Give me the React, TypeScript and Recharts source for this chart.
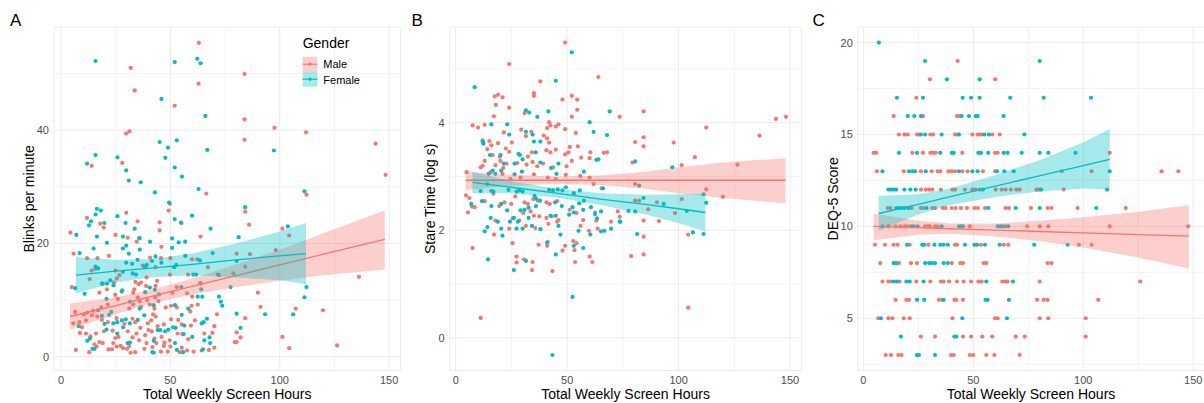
import React from 'react';
import { ComposedChart, Scatter, Area, Line, XAxis, YAxis, CartesianGrid, ReferenceLine } from 'recharts';

const RED = '#F8766D';
const TEAL = '#00BFC4';
const FONT = "'Liberation Sans', Arial, Helvetica, sans-serif";
const BAND_OPACITY = 0.35;

type Pt = [number, number];
type Row = [number, number[]];

// ---------- ticks ----------
const xTicks = [0, 50, 100, 150];
const xMinor = [25, 75, 125];
const yTicksA = [0, 20, 40];
const yMinorA = [10, 30, 50];
const yTicksB = [0, 2, 4];
const yMinorB = [1, 3, 5];
const yTicksC = [5, 10, 15, 20];
const yMinorC = [2.5, 7.5, 12.5, 17.5];

// ---------- Panel A: Blinks per minute ----------
const maleA: Pt[] = [
  [63, 55.4], [31.9, 51], [62.9, 48.2], [33.7, 47], [52, 44.3], [29.8, 39.4], [31.3, 39.8], [14, 33.7], [28, 34.2], [66.4, 28.8],
  [49.8, 27], [49.2, 25.8], [11.9, 24.5], [29.8, 25.4], [17.9, 23.5], [19.5, 22.8], [35, 23.9], [45.1, 23.7], [45.1, 22.3], [63.8, 21.2],
  [4.3, 21.9], [24.9, 21.5], [34.6, 20.3], [45.9, 19.4], [5.8, 18.2], [21.9, 17.8], [40.7, 17.5], [11.9, 17.4], [16.7, 17.4], [59.9, 17.2],
  [62.3, 17.2], [14, 15.2], [24.9, 15.2], [26.7, 14.4], [25.5, 13.8], [37.4, 16.1], [43.2, 15.8], [49.8, 14.5], [58.1, 14.5], [67.2, 15.8],
  [13.1, 13.7], [4.9, 12.3], [19.1, 12.9], [21, 11.9], [38.9, 12.5], [43.2, 12.5], [52.9, 12.3], [63.8, 12.9], [34, 13.2], [35.5, 12.8],
  [33.5, 11.9], [30.5, 21], [35.7, 21], [54.9, 23.7], [50, 17.4], [72.2, 14.4], [63.7, 13], [43.9, 13.4], [39.1, 14], [36.6, 13.1],
  [24.2, 13.1], [15.7, 15.5], [45.7, 17.4],
  [17.5, 11.3], [24.8, 10.9], [26, 10.2], [33, 11.3], [35.1, 10.5], [36, 9.8], [39.4, 10], [43, 10.5], [44.5, 9.8], [50.9, 11.3],
  [57.6, 11.2], [60, 10.6], [21.4, 9.2], [18.4, 8.7], [14.7, 8.1], [12, 7.8], [14.1, 7.3], [10.5, 7.5], [6.5, 7.9], [33, 9.2],
  [31.2, 8.5], [36.6, 8.8], [40.6, 9.2], [42.7, 8.5], [42.1, 7.5], [43.3, 7.1], [47.9, 8.7], [50.3, 9], [53, 8.7], [59.7, 9],
  [59.1, 8], [62.5, 9.2], [71.3, 7.5], [5.6, 5.9], [8.4, 6.1], [9.6, 5.2], [11.4, 6.4], [16.6, 7.1], [18.7, 6.5], [21.4, 6.1],
  [25.4, 6.8], [29, 5.8], [32.7, 6.7], [33.9, 6.1], [36.3, 5.1], [39.7, 5.9], [41.2, 6.4], [44.2, 5.4], [47, 5.7], [50.3, 6.6],
  [53.6, 6.5], [55.2, 5.7], [59.4, 5.5], [61.2, 6.4], [70.1, 5.4], [8.7, 4.2], [11.4, 4.1], [13.5, 3.6], [16, 4.1], [19.6, 4.5],
  [23.6, 4.6], [24.8, 3.3], [26.3, 3.5], [30.5, 4.5], [32.7, 3.4], [34.5, 4.1], [35.7, 2.9], [38.5, 3.8], [40, 4.7], [41.5, 4.5],
  [42.7, 3.2], [46, 3.5], [47.3, 2.5], [49.7, 2.9], [53.3, 4.1], [55.5, 4], [58.2, 3.1], [65.5, 4.1], [69.2, 4.2], [6.8, 1.2],
  [12.9, 0.8], [15.3, 2.2], [16.3, 1.8], [17.5, 2.6], [19, 2.4], [21.7, 1.3], [23.3, 1.3], [23.9, 2.4], [25.4, 1.8], [27.2, 1.9],
  [28.4, 1.5], [30.2, 1.4], [31.2, 1.9], [31.8, 0.7], [33.9, 0.8], [38.1, 1.4], [39.1, 2.4], [41.8, 1.7], [43.6, 2.4], [45.7, 0.9],
  [47, 1.9], [48.8, 0.9], [50, 1.8], [54.3, 0.8], [55.2, 1.6], [57.6, 1.1], [60.6, 0.9], [64.3, 1.1], [67.6, 1.2], [70.1, 1.6],
  [83.9, 49.9], [83.9, 41.9], [97.6, 40.4], [83.9, 38.3], [112, 39.6], [143.8, 37.6], [148.4, 32.1], [112.2, 28.6], [84.2, 25.6], [86, 23.3],
  [101.2, 22.6], [104.3, 21.4], [98.2, 18.8], [80.3, 18.2], [86.4, 18.1], [84.2, 15.9], [78.8, 14.7], [136.2, 14.1], [90, 11.3], [91.2, 8.8],
  [107.3, 8.5], [119.8, 8.2], [84.2, 6.8], [80.3, 4.3], [82.1, 3.4], [79.4, 2.6], [80.3, 2.6], [101.2, 3.5], [104.3, 1.5], [126.2, 2],
];

const femaleA: Pt[] = [
  [15.8, 52.2], [52, 52], [62.3, 52.6], [63.8, 51.8], [45.9, 45.5], [66, 42.5], [45.1, 37.9], [52.9, 38.2], [48.9, 36.9], [66.9, 36.5],
  [15.8, 35.6], [11.9, 34.1], [25.8, 35.2], [47.7, 35.1], [29.8, 32.9], [52, 33.4], [55.3, 31.8], [31, 31.1], [36.5, 30.8], [42.9, 29],
  [62.9, 29.6], [49.4, 27.2], [16.4, 26.1], [18.2, 25.8], [13.7, 23.9], [15.8, 25.1], [12.8, 23.2], [25.8, 24.8], [19.8, 23.6], [29.5, 23.6],
  [33.7, 22.6], [52, 24.3], [55, 23.6], [59.9, 24.9], [68.4, 22.6], [7, 21.5], [16.4, 21.2], [28.3, 21.2], [21, 20.1], [35.9, 20.9],
  [40.7, 20.3], [50.8, 20.9], [53.8, 20.2], [56.8, 20.3], [29.8, 19.6], [28.3, 19.1], [14.9, 19.1], [50.8, 19.2], [8.5, 18.3], [31, 18.2],
  [43.2, 17.7], [69.3, 18.3], [56.8, 17.8], [35, 17.1], [29.8, 16.6], [32.5, 16.4], [39.2, 16.2], [41.6, 16.9], [45.9, 16.6], [63.5, 17],
  [15.8, 15.9], [17, 15.6], [28.3, 15], [32.8, 14.7], [34.3, 14.5], [38.3, 15.8], [51.7, 15.8], [60.5, 14.5], [71.7, 14.5], [21, 12.9],
  [22.5, 13.5], [24, 12.6], [28, 11.7], [55, 12.3], [42.9, 11.8], [64.1, 11.9], [36, 18.9], [52.7, 16.2], [61.8, 14.5], [40.6, 12.2],
  [18.7, 12.9], [6.5, 12.1],
  [10.8, 11.1], [20.8, 10.2], [27.8, 11.5], [38.5, 11.4], [44.8, 11], [64.6, 10.6], [72.2, 10.6], [73.1, 9.7], [73.7, 9], [16.9, 8.2],
  [18.7, 7.2], [22, 7.4], [23, 7.9], [31.5, 9.7], [36, 8.5], [38.1, 7.3], [42.4, 9.1], [52.1, 9.1], [55.2, 7.4], [58.2, 8.5],
  [62.5, 10.6], [66.7, 6.7], [8.1, 5.4], [19.9, 5.8], [20.8, 4.8], [23.9, 5.9], [25.7, 6.1], [27.8, 6.4], [28.4, 5.2], [29.6, 6.6],
  [31.5, 5.9], [35.1, 6.5], [44.2, 4.7], [45.4, 4.7], [47.6, 4.5], [49.1, 4.8], [51.2, 5.2], [52.4, 5.1], [56.4, 5.5], [64.3, 5.9],
  [65.2, 6.1], [12, 2.8], [13.2, 3.2], [25.7, 4.1], [30.5, 2.4], [31.5, 2.5], [42.4, 2.8], [56.1, 4], [60, 3.5], [67.9, 3.4],
  [65.5, 2.9], [52.1, 2.4], [14.4, 1.4], [15.3, 1.4], [41.8, 0.8], [42.4, 0.7], [53, 1.2], [55.8, 0.8], [64.9, 1.3], [68.2, 2.4],
  [97.3, 36.4], [111.3, 29.2], [84.2, 26.4], [81.2, 21.1], [103.7, 23], [80.3, 16.9], [77.5, 12.3], [112.2, 12.3], [111.3, 10.5], [93.3, 7.5],
  [106.1, 7.5], [80.3, 7.6], [82.1, 5.1],
];

const maleBandXA = [4.1, 25, 40, 60, 80, 100, 120, 148];
const maleLoA = [4.8, 7.5, 9.3, 11.0, 12.3, 13.4, 14.4, 15.4];
const maleHiA = [9.4, 10.5, 11.7, 13.8, 16.3, 18.9, 21.8, 25.8];
const maleFitA = [7.1, 9.0, 10.5, 12.4, 14.3, 16.2, 18.1, 20.7];
const femBandXA = [6.8, 25, 40, 60, 80, 100, 112];
const femLoA = [11.2, 13.1, 14.0, 14.4, 14.0, 13.5, 12.8];
const femHiA = [17.6, 17.1, 17.2, 18.2, 20.0, 22.1, 23.6];
const femFitA = [14.4, 15.1, 15.6, 16.3, 17.1, 17.8, 18.2];

// ---------- Panel B: Stare Time (log s) ----------
const maleB: Pt[] = [
  [49.1, 5.49], [24, 5.09], [38, 4.77], [64, 4.85], [35.1, 4.55], [35.1, 4.5], [17.5, 4.49], [19, 4.52], [21, 4.47], [18, 4.33],
  [24, 4.28], [47.9, 4.43], [52.1, 4.5], [54.5, 4.43], [54.5, 4.24], [52.1, 4.11], [30.9, 4.18], [17.1, 4.12], [7.6, 3.95], [10, 3.91],
  [13, 3.96], [41.9, 4.01], [41, 3.9], [42.5, 3.95], [44.9, 3.93], [46.1, 3.97], [49.1, 3.88], [53.9, 3.81], [29.4, 3.87], [21.6, 3.82],
  [25.2, 3.63], [12.1, 3.67], [15.1, 3.66], [16, 3.58], [19, 3.62], [31.5, 3.75], [33.9, 3.83], [39.5, 3.76], [41, 3.71], [41.9, 3.63],
  [51.2, 3.55], [54.8, 3.56], [14.2, 3.51], [22.5, 3.52], [24, 3.46], [16.6, 3.4], [19.8, 3.37], [32.4, 3.37], [34.2, 3.45], [40.7, 3.49],
  [42.5, 3.45], [44.9, 3.5], [49.1, 3.41], [50.6, 3.45], [56.3, 3.35], [60.4, 3.45], [66.4, 3.44], [67.9, 3.45], [60.1, 3.34], [13, 3.29],
  [17.8, 3.21], [20.1, 3.29], [22.8, 3.24], [11.2, 3.17], [12.1, 3.2], [21.3, 3.16], [27.6, 3.25], [31.8, 3.22], [34.5, 3.27], [36.6, 3.19],
  [39.2, 3.24], [43.7, 3.17], [49.7, 3.19], [52.1, 3.29], [4.9, 3.08], [15.7, 3.08], [21, 3.05], [24.6, 2.95], [29.1, 2.98], [35.1, 3.04],
  [41.3, 2.98], [44.9, 2.95], [49.4, 3.03], [55.9, 3.01], [60.1, 2.98], [61.9, 2.86], [65.5, 2.78], [4.6, 2.65], [6.1, 2.6], [8.5, 2.43],
  [5.5, 2.33], [7.3, 2.44], [13, 2.54], [16.9, 2.68], [19.5, 2.45], [21.9, 2.52], [24.9, 2.49], [26.7, 2.63], [30.9, 2.52], [32.4, 2.49],
  [34.8, 2.58], [36.9, 2.55], [40.7, 2.52], [42.2, 2.49], [45.5, 2.54], [33.6, 2.35], [30.3, 2.32], [35.1, 2.27], [37.5, 2.26], [40.7, 2.23],
  [43.1, 2.26], [46.1, 2.19], [51.2, 2.38], [54.2, 2.32], [57.2, 2.19], [62.5, 2.33], [63.1, 2.18], [72.7, 2.35], [73.6, 2.25], [17.8, 2.18],
  [25.5, 2.22], [28.5, 2.18], [24, 2.03], [17.2, 1.92], [31.5, 2.08], [35.7, 2.04], [41.6, 2.12], [45.5, 2.16], [56, 2.08], [59.8, 1.99],
  [63.7, 2.03], [69.7, 2.16], [25.5, 1.76], [37.2, 1.73], [41, 1.71], [41.3, 1.78], [49.1, 1.71], [52.7, 1.8], [53.3, 1.63], [54.2, 1.76],
  [7.6, 1.67], [27.3, 1.51], [27.3, 1.4], [30.6, 1.46], [34.5, 1.41], [34.2, 1.26], [43.4, 1.24], [53.6, 1.41], [60.1, 1.51], [61.3, 1.41],
  [47.9, 1.62], [11.2, 0.37],
  [73.6, 4.11], [84.3, 4.21], [84.3, 3.73], [84.3, 3.56], [80.5, 3.64], [79.3, 3.26], [97.8, 3.63], [112.4, 3.91], [107.3, 3.36], [101.4, 3.21],
  [136.3, 3.76], [143.7, 4.07], [148.2, 4.11], [126.4, 3.22], [112.4, 2.76], [119.9, 2.62], [80.5, 2.86], [80.5, 2.55], [82.3, 2.55], [86.4, 2.39],
  [90.3, 2.52], [101.4, 2.58], [98.4, 2.32], [84.3, 2.18], [91.2, 2.17], [84.3, 1.88], [78.7, 1.52], [84.3, 1.55], [104.3, 1.92], [104.3, 0.56],
];

const femaleB: Pt[] = [
  [52.1, 5.31], [44.9, 4.78], [8.5, 4.66], [31.5, 4.23], [33, 4.19], [36.6, 4.11], [41.6, 4.21], [16, 3.97], [23.1, 3.97], [24, 3.78],
  [12.1, 3.65], [12.4, 3.61], [60.1, 4.01], [61.9, 3.83], [67.9, 3.77], [69.1, 4.21], [31.5, 3.83], [34.5, 3.78], [38, 3.65], [35.1, 3.65],
  [15.4, 3.4], [20.1, 3.4], [21.6, 3.24], [26.4, 3.24], [28.2, 3.42], [28.8, 3.4], [30, 3.32], [35.9, 3.45], [38, 3.26], [42.8, 3.16],
  [46.1, 3.24], [45.2, 3.05], [57.5, 3.09], [63.1, 3.31], [64, 3.32], [16.6, 3.11], [17.8, 3.05], [20.4, 3.11], [14.8, 3.05], [26.4, 3.04],
  [29.7, 3.09], [11.2, 2.73], [14.2, 2.86], [16, 2.73], [16.9, 2.72], [23.7, 2.75], [27.3, 2.72], [28.5, 2.74], [30, 2.72], [35.4, 2.64],
  [36, 2.59], [37.8, 2.55], [41.9, 2.75], [43.7, 2.74], [45.8, 2.76], [47.9, 2.74], [49.4, 2.8], [53, 2.69], [55.7, 2.74], [57.5, 2.55],
  [66.1, 2.78], [7, 2.49], [11.8, 2.54], [16, 2.45], [20.4, 2.49], [23.1, 2.37], [29.1, 2.37], [30.9, 2.38], [32.7, 2.42], [36, 2.45],
  [44.6, 2.52], [47.6, 2.45], [52.4, 2.43], [53, 2.33], [55.4, 2.5], [57.2, 2.38], [60.7, 2.43], [62.5, 2.3], [63.4, 2.22], [65.2, 2.35],
  [15.7, 2.23], [18.9, 2.16], [24.3, 2.16], [26.1, 2.23], [27.9, 2.16], [32.7, 2.23], [34.2, 2.08], [42.5, 2.27], [44.9, 2.27], [46.1, 2.08],
  [50.9, 2.29], [55.1, 1.99], [60.4, 1.92], [65.2, 1.98], [66.7, 1.99], [69.7, 2.03], [73.9, 2.16], [13, 1.98], [14.2, 2.06], [20.4, 2.03],
  [21, 1.9], [27.3, 2.03], [30, 2.03], [38, 2.02], [47, 1.92], [41, 1.77], [53, 1.71], [57.2, 1.67], [44.9, 1.55], [14.5, 1.46],
  [26.1, 1.26], [31.5, 1.43], [52.4, 0.76], [43.4, -0.32],
  [80.5, 3.28], [97.2, 3.17], [82.3, 2.83], [84.3, 2.6], [77.5, 2.36], [80.5, 2.35], [93.3, 2.49], [103.7, 2.36], [111.2, 2.67], [112.4, 2.51],
  [81.4, 1.93], [106.4, 1.96], [111.2, 1.93], [73.6, 2.16],
];

const maleBandXB = [4.5, 25, 45, 65, 85, 100, 125, 148];
const maleLoB = [2.75, 2.83, 2.86, 2.84, 2.77, 2.69, 2.58, 2.5];
const maleHiB = [3.09, 3.03, 3.0, 3.02, 3.09, 3.17, 3.28, 3.34];
const maleFitB = [2.93, 2.93, 2.93, 2.93, 2.93, 2.93, 2.93, 2.93];
const femBandXB = [7.5, 25, 45, 65, 85, 100, 112];
const femLoB = [2.69, 2.69, 2.61, 2.47, 2.3, 2.13, 1.98];
const femHiB = [3.09, 2.91, 2.77, 2.69, 2.66, 2.67, 2.68];
const femFitB = [2.89, 2.8, 2.69, 2.58, 2.48, 2.4, 2.33];

// ---------- Panel C: DEQ-5 Score (rows: score, screen hours) ----------
const maleC: Row[] = [
  [19, [42.9]],
  [18, [30.3, 60.0]],
  [17, [24.1]],
  [16, [13.8, 27.1, 42.6, 43.8]],
  [15, [16.2, 18.7, 20.2, 24.4, 25.3, 30.5, 31.7, 41.7, 42.6, 49.6, 52.0, 52.9, 53.8, 58.6, 62.0]],
  [14, [4.7, 5.9, 22.3, 27.1, 30.5, 31.7, 32.9, 45.0, 59.9, 61.1, 112.0]],
  [13, [6.2, 18.4, 26.2, 31.1, 33.8, 35.0, 38.7, 40.2, 41.7, 45.0, 47.4, 54.4, 59.9, 90.2, 103.8, 135.6, 143.2]],
  [12, [26.2, 28.4, 29.9, 31.4, 35.3, 40.5, 41.7, 46.2, 49.6, 51.1, 52.9, 60.2, 62.9, 64.7, 67.1, 69.6, 71.1, 78.7, 79.6, 91.1]],
  [11, [11.1, 12.3, 22.0, 26.2, 27.1, 31.4, 32.6, 36.2, 37.4, 40.2, 42.0, 44.4, 47.1, 50.5, 52.0, 55.3, 64.7, 66.2, 76.2, 83.8, 85.6, 97.4, 119.3]],
  [10, [8.7, 11.4, 14.7, 16.8, 18.7, 19.9, 28.1, 29.3, 30.2, 32.6, 33.8, 48.4, 64.7, 74.5, 80.2, 84.1, 112.0, 147.7]],
  [9, [5.3, 9.9, 13.8, 15.6, 21.1, 29.6, 41.7, 42.6, 53.5, 63.8, 65.9, 98.0, 103.8]],
  [8, [7.7, 16.2, 21.7, 24.4, 40.2, 44.1, 45.3, 54.7, 55.9, 83.8, 85.6]],
  [7, [8.7, 11.4, 12.6, 16.5, 24.1, 30.5, 35.3, 36.5, 39.0, 42.6, 45.6, 49.0, 52.3, 53.8, 63.2, 64.7, 65.6, 80.2, 125.9]],
  [6, [14.7, 19.6, 20.8, 34.4, 35.9, 41.4, 42.3, 45.3, 79.0, 82.0, 83.8, 106.8]],
  [5, [6.8, 11.4, 13.2, 18.4, 21.1, 40.5, 59.9, 61.1, 80.2, 84.1, 101.1]],
  [4, [26.2, 32.6, 45.3, 49.0, 54.1, 58.6, 69.3, 73.4, 101.1]],
  [3, [10.2, 12.6, 15.9, 17.4, 39.9, 41.1, 48.4, 49.9, 55.9, 59.6, 71.1]],
];

const femaleC: Row[] = [
  [20, [7.1]],
  [19, [28.1, 80.2]],
  [18, [38.0, 52.9]],
  [17, [15.3, 27.1, 45.2, 49.0, 52.9, 66.8, 82.0, 103.5]],
  [16, [20.2, 23.2, 26.2, 44.7, 48.0, 51.1, 52.0, 63.8]],
  [15, [26.2, 28.1, 35.6, 43.5, 55.0, 57.1, 73.2]],
  [14, [16.2, 24.4, 35.0, 40.2, 41.1, 52.3, 53.5, 56.8, 63.8, 65.6, 72.0, 80.2, 84.1, 96.5]],
  [13, [8.7, 20.8, 22.3, 23.5, 28.4, 43.5, 49.6, 52.0, 60.8, 64.1, 68.4, 112.0]],
  [12, [11.4, 12.6, 13.8, 14.9, 18.7, 21.4, 23.8, 54.4, 80.8, 110.8]],
  [11, [15.0, 15.9, 17.4, 18.7, 20.5, 28.7, 56.8, 69.3, 80.2, 105.9]],
  [10, [21.7, 22.9, 24.7, 35.6, 43.5, 44.4, 45.3, 61.1, 62.3, 63.5, 65.9]],
  [9, [19.9, 26.8, 27.7, 32.3, 35.0, 36.5, 38.4, 46.2, 50.5, 51.7, 55.3, 62.0, 77.7, 92.9]],
  [8, [13.8, 15.0, 28.1, 29.9, 31.1, 32.6, 36.5, 38.4]],
  [7, [13.8, 15.3, 19.6, 21.1, 27.4, 55.9, 68.0]],
  [6, [24.4, 27.7, 36.5, 55.6, 56.5, 66.2]],
  [5, [8.0, 45.0, 65.3]],
  [4, [17.1, 41.4, 42.3]],
  [3, [24.4, 25.3, 32.6]],
];

const maleBandXC = [4.7, 25, 40, 60, 80, 100, 125, 148];
const maleLoC = [9.25, 9.55, 9.6, 9.45, 9.2, 8.85, 8.3, 7.7];
const maleHiC = [10.7, 10.3, 10.15, 10.15, 10.3, 10.5, 10.8, 11.15];
const maleFitC = [10.0, 9.93, 9.87, 9.8, 9.72, 9.65, 9.55, 9.47];
const femBandXC = [7, 25, 40, 60, 80, 100, 112];
const femLoC = [9.75, 10.65, 11.18, 11.6, 11.9, 12.06, 12.0];
const femHiC = [11.65, 11.75, 12.08, 12.8, 13.6, 14.56, 15.3];
const femFitC = [10.7, 11.2, 11.63, 12.19, 12.75, 13.31, 13.65];

// ---------- helpers ----------
const toObj = (pts: Pt[]) => pts.map(([x, y]) => ({ x, y }));
const fromRows = (rows: Row[]) => rows.flatMap(([y, xs]) => xs.map((x) => ({ x, y })));
const bandTable = (xs: number[], lo: number[], hi: number[], fit: number[]) =>
  xs.map((x, i) => ({ x, band: [lo[i], hi[i]], fit: fit[i] }));

const makeDot = (color: string) => (props: any) => {
  if (props == null || props.cx == null || props.cy == null) return <g />;
  return <circle cx={props.cx} cy={props.cy} r={2.1} fill={color} />;
};
const redDot = makeDot(RED);
const tealDot = makeDot(TEAL);

const tickStyle = { fill: '#4D4D4D', fontSize: 11, fontFamily: FONT };

interface PanelProps {
  left: number;
  width: number;
  yw: number;
  mr: number;
  xDomain: [number, number];
  yDomain: [number, number];
  yTicks: number[];
  yMinor: number[];
  male: { x: number; y: number }[];
  female: { x: number; y: number }[];
  mBand: any[];
  fBand: any[];
}

function Panel(p: PanelProps) {
  return (
    <div style={{ position: 'absolute', left: p.left, top: 0 }}>
      <ComposedChart width={p.width} height={403} margin={{ top: 27, right: p.mr, bottom: 0, left: 0 }}>
        <CartesianGrid stroke="#EBEBEB" strokeWidth={1} />
        {xMinor.map((v) => (
          <ReferenceLine key={`vx${v}`} x={v} stroke="#F3F3F3" strokeWidth={1} zIndex={-90} />
        ))}
        {p.yMinor.map((v) => (
          <ReferenceLine key={`hy${v}`} y={v} stroke="#F3F3F3" strokeWidth={1} zIndex={-90} />
        ))}
        <XAxis
          type="number"
          dataKey="x"
          domain={p.xDomain}
          ticks={xTicks}
          allowDataOverflow
          interval={0}
          height={32.4}
          tickLine={false}
          axisLine={false}
          tickSize={3}
          tickMargin={2.4}
          tick={tickStyle}
        />
        <YAxis
          type="number"
          domain={p.yDomain}
          ticks={p.yTicks}
          allowDataOverflow
          interval={0}
          width={p.yw}
          tickLine={false}
          axisLine={false}
          tickSize={3}
          tickMargin={2}
          tick={tickStyle}
        />
        <Scatter data={p.male} dataKey="y" shape={redDot} isAnimationActive={false} zIndex={50} />
        <Scatter data={p.female} dataKey="y" shape={tealDot} isAnimationActive={false} zIndex={51} />
        <Area
          data={p.mBand}
          dataKey="band"
          type="linear"
          stroke="none"
          strokeWidth={0}
          fill={RED}
          fillOpacity={BAND_OPACITY}
          dot={false}
          activeDot={false}
          isAnimationActive={false}
          zIndex={100}
        />
        <Line
          data={p.mBand}
          dataKey="fit"
          type="linear"
          stroke={RED}
          strokeWidth={1.3}
          dot={false}
          activeDot={false}
          isAnimationActive={false}
          zIndex={110}
        />
        <Area
          data={p.fBand}
          dataKey="band"
          type="linear"
          stroke="none"
          strokeWidth={0}
          fill={TEAL}
          fillOpacity={BAND_OPACITY}
          dot={false}
          activeDot={false}
          isAnimationActive={false}
          zIndex={120}
        />
        <Line
          data={p.fBand}
          dataKey="fit"
          type="linear"
          stroke={TEAL}
          strokeWidth={1.3}
          dot={false}
          activeDot={false}
          isAnimationActive={false}
          zIndex={130}
        />
      </ComposedChart>
    </div>
  );
}

function Overlay() {
  return (
    <svg
      width={1204}
      height={403}
      style={{ position: 'absolute', left: 0, top: 0, pointerEvents: 'none' }}
      fontFamily={FONT}
    >
      <text x={10} y={26} fontSize={17} fill="#000">A</text>
      <text x={411.5} y={26} fontSize={17} fill="#000">B</text>
      <text x={812.5} y={26} fontSize={17} fill="#000">C</text>

      <text x={227.2} y={399} fontSize={14} textAnchor="middle" fill="#000">Total Weekly Screen Hours</text>
      <text x={625.6} y={399} fontSize={14} textAnchor="middle" fill="#000">Total Weekly Screen Hours</text>
      <text x={1031} y={399} fontSize={14} textAnchor="middle" fill="#000">Total Weekly Screen Hours</text>

      <text transform="translate(34.3,198.8) rotate(-90)" fontSize={14} textAnchor="middle" fill="#000">Blinks per minute</text>
      <text transform="translate(435,198.8) rotate(-90)" fontSize={14} textAnchor="middle" fill="#000">Stare Time (log s)</text>
      <text transform="translate(837.5,198.8) rotate(-90)" fontSize={14} textAnchor="middle" fill="#000">DEQ-5 Score</text>

      <text x={302.7} y={48.3} fontSize={14} fill="#000">Gender</text>
      <rect x={302.7} y={56.7} width={14.7} height={15} fill={RED} fillOpacity={BAND_OPACITY} />
      <line x1={302.7} x2={317.4} y1={64.2} y2={64.2} stroke={RED} strokeWidth={1.2} />
      <circle cx={310} cy={64.2} r={1.6} fill={RED} />
      <text x={323.3} y={68.3} fontSize={11} fill="#000">Male</text>
      <rect x={302.7} y={71.7} width={14.7} height={15} fill={TEAL} fillOpacity={BAND_OPACITY} />
      <line x1={302.7} x2={317.4} y1={79.2} y2={79.2} stroke={TEAL} strokeWidth={1.2} />
      <circle cx={310} cy={79.2} r={1.6} fill={TEAL} />
      <text x={323.3} y={84.3} fontSize={11} fill="#000">Female</text>
    </svg>
  );
}

export default function App() {
  return (
    <div
      style={{
        position: 'absolute',
        left: 0,
        top: 0,
        width: 1204,
        height: 403,
        overflow: 'hidden',
        background: '#FFFFFF',
        fontFamily: FONT,
      }}
    >
      <Panel
        left={0}
        width={401}
        yw={54}
        mr={0.5}
        xDomain={[-3.2, 155.2]}
        yDomain={[-2.45, 58.2]}
        yTicks={yTicksA}
        yMinor={yMinorA}
        male={toObj(maleA)}
        female={toObj(femaleA)}
        mBand={bandTable(maleBandXA, maleLoA, maleHiA, maleFitA)}
        fBand={bandTable(femBandXA, femLoA, femHiA, femFitA)}
      />
      <Panel
        left={401}
        width={401}
        yw={48.7}
        mr={0.4}
        xDomain={[-2.7, 155.2]}
        yDomain={[-0.61, 5.78]}
        yTicks={yTicksB}
        yMinor={yMinorB}
        male={toObj(maleB)}
        female={toObj(femaleB)}
        mBand={bandTable(maleBandXB, maleLoB, maleHiB, maleFitB)}
        fBand={bandTable(femBandXB, femLoB, femHiB, femFitB)}
      />
      <Panel
        left={802}
        width={403}
        yw={55.8}
        mr={0.3}
        xDomain={[-2.5, 155.2]}
        yDomain={[2.15, 20.85]}
        yTicks={yTicksC}
        yMinor={yMinorC}
        male={fromRows(maleC)}
        female={fromRows(femaleC)}
        mBand={bandTable(maleBandXC, maleLoC, maleHiC, maleFitC)}
        fBand={bandTable(femBandXC, femLoC, femHiC, femFitC)}
      />
      <Overlay />
    </div>
  );
}
